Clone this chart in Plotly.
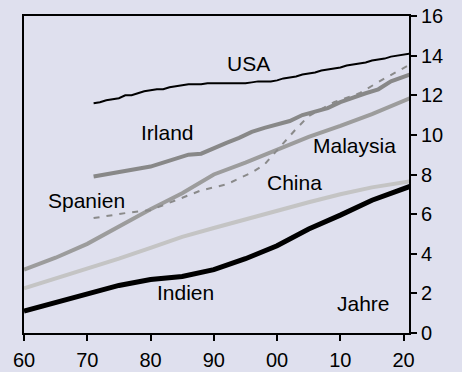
import plotly.graph_objects as go

# Schulbesuchsdauer (Jahre)
years_usa = list(range(1971, 2022))
usa = [11.6, 11.65, 11.75, 11.8, 11.85, 12.0, 12.0, 12.1, 12.2, 12.25,
       12.3, 12.3, 12.4, 12.45, 12.5, 12.55, 12.55, 12.55, 12.6, 12.6,
       12.6, 12.6, 12.6, 12.6, 12.6, 12.65, 12.7, 12.7, 12.7, 12.75,
       12.85, 12.9, 12.95, 13.05, 13.1, 13.15, 13.25, 13.3, 13.35, 13.4,
       13.5, 13.55, 13.6, 13.65, 13.75, 13.8, 13.85, 13.95, 14.0, 14.05, 14.1]

years_irl = [1971, 1972, 1974, 1976, 1978, 1980, 1982, 1984, 1986, 1988, 1990,
             1992, 1994, 1996, 1998, 2000, 2002, 2004, 2006, 2008, 2010,
             2012, 2014, 2016, 2018, 2021]
irland = [7.9, 7.95, 8.05, 8.15, 8.25, 8.4, 8.6, 8.8, 9.0, 9.05, 9.35,
          9.6, 9.85, 10.15, 10.35, 10.55, 10.7, 11.0, 11.2, 11.35, 11.65,
          11.9, 12.1, 12.3, 12.7, 13.05]

years_esp = [1971, 1976, 1980, 1984, 1988, 1992, 1996, 1998, 2001, 2003,
             2005, 2009, 2013, 2017, 2021]
spanien = [5.8, 6.05, 6.2, 6.7, 7.2, 7.5, 8.1, 8.5, 9.6, 10.3, 10.95,
           11.65, 12.1, 12.85, 13.55]

years_long = [1960, 1965, 1970, 1975, 1980, 1985, 1990, 1995, 2000, 2005,
              2010, 2015, 2021]
malaysia = [3.2, 3.8, 4.5, 5.4, 6.25, 7.05, 8.0, 8.6, 9.25, 9.9, 10.45,
            11.05, 11.85]
china = [2.25, 2.75, 3.2, 3.75, 4.3, 4.85, 5.3, 5.75, 6.15, 6.6, 7.0,
         7.35, 7.65]
indien = [1.1, 1.55, 2.0, 2.4, 2.7, 2.85, 3.2, 3.75, 4.4, 5.25, 5.95,
          6.7, 7.4]

x_ticks = [1960, 1970, 1980, 1990, 2000, 2010, 2020]
x_labels = ["60", "70", "80", "90", "00", "10", "20"]
y_ticks = [0, 2, 4, 6, 8, 10, 12, 14, 16]

bg = "#DFE0EE"

fig = go.Figure()
fig.add_trace(go.Scatter(x=years_long, y=china, mode="lines",
                         line=dict(color="#C4C4C4", width=4), name="China"))
fig.add_trace(go.Scatter(x=years_long, y=malaysia, mode="lines",
                         line=dict(color="#9C9C9C", width=4), name="Malaysia"))
fig.add_trace(go.Scatter(x=years_esp, y=spanien, mode="lines",
                         line=dict(color="#8A8A8A", width=2, dash="6px,7px"),
                         name="Spanien"))
fig.add_trace(go.Scatter(x=years_irl, y=irland, mode="lines",
                         line=dict(color="#888888", width=4), name="Irland"))
fig.add_trace(go.Scatter(x=years_usa, y=usa, mode="lines",
                         line=dict(color="black", width=2), name="USA"))
fig.add_trace(go.Scatter(x=years_long, y=indien, mode="lines",
                         line=dict(color="black", width=5), name="Indien"))

labels = [("USA", 1995.5, 13.6), ("Irland", 1982.7, 10.1),
          ("Malaysia", 2012.3, 9.45), ("China", 2002.8, 7.6),
          ("Spanien", 1969.8, 6.7), ("Indien", 1985.6, 2.05),
          ("Jahre", 2013.6, 1.5)]
for text, x, y in labels:
    fig.add_annotation(x=x, y=y, text=text, showarrow=False,
                       font=dict(size=21, color="black"))

fig.update_xaxes(range=[1960, 2020.85], tickvals=x_ticks, ticktext=x_labels,
                 showline=True, linecolor="black", linewidth=2, mirror=True,
                 ticks="outside", ticklen=6, tickwidth=2, tickcolor="black",
                 showgrid=False, zeroline=False, ticklabelstandoff=2,
                 automargin=False)
fig.update_yaxes(range=[0, 16], tickvals=y_ticks, side="right",
                 showline=True, linecolor="black", linewidth=2, mirror=True,
                 ticks="outside", ticklen=6, tickwidth=2, tickcolor="black",
                 showgrid=False, zeroline=False, automargin=False)

fig.update_layout(width=462, height=372,
                  margin=dict(l=24, r=53, t=16, b=39),
                  paper_bgcolor=bg, plot_bgcolor=bg,
                  showlegend=False,
                  font=dict(family="Liberation Sans, Arial", size=20, color="black"))

# the page body has a default 8px margin; drop it so the figure fills the window
fig.write_html("out.html",
               config={"displayModeBar": False},
               post_script="document.body.style.margin='0';"
                           "document.body.style.background='%s';" % bg)
